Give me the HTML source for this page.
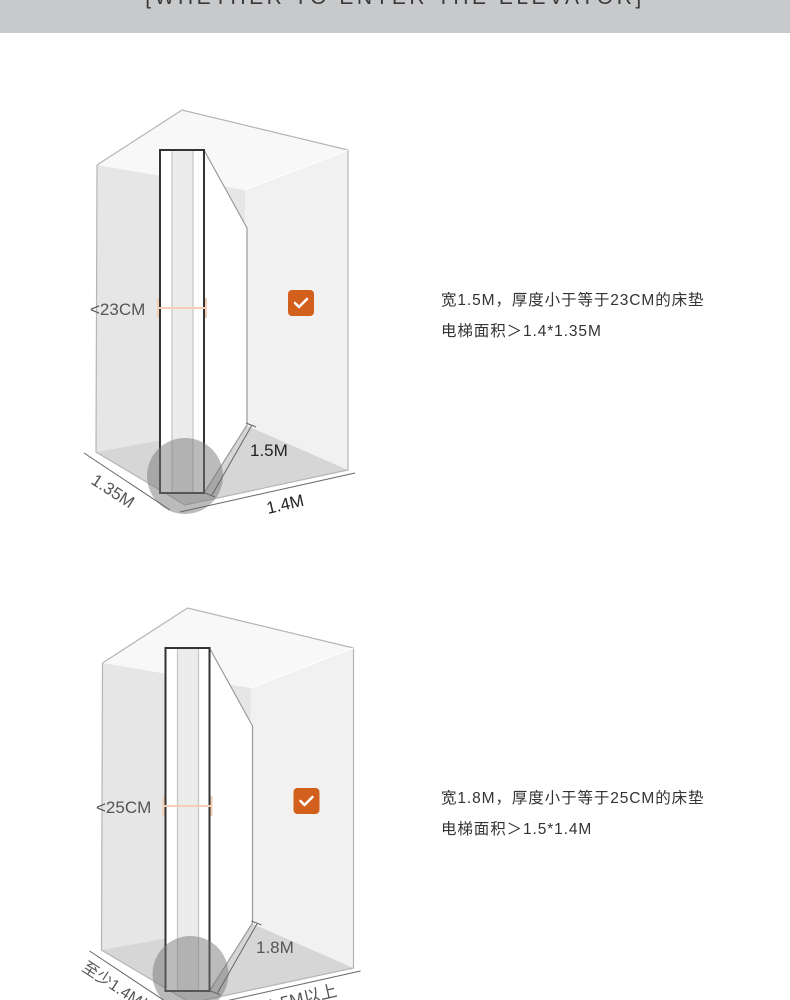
<!DOCTYPE html>
<html><head><meta charset="utf-8"><style>
html,body{margin:0;padding:0;background:#fff;}
body{width:790px;height:1000px;overflow:hidden;position:relative;font-family:"Liberation Sans","Noto Sans CJK SC",sans-serif;}
.hdr{position:absolute;left:0;top:0;width:790px;height:33px;background:#c8c9cb;}
.hdr span{position:absolute;left:0;width:790px;top:-14px;text-align:center;font-size:21px;letter-spacing:3.5px;color:#3a3a3a;}
.t{position:absolute;left:441px;font-size:15.5px;color:#333;letter-spacing:0.9px;}
</style></head><body>
<div class="hdr"><span>[WHETHER TO ENTER THE ELEVATOR]</span></div>
<svg width="790" height="1000" style="position:absolute;left:0;top:0" font-family="Liberation Sans, Noto Sans CJK SC, sans-serif">
<defs>
<g id="box">
  <polygon points="97,165 182,110 348,150 245,190" fill="#f8f8f8"/>
  <polygon points="97,165 245,190 245,425 96,452" fill="#e6e6e6"/>
  <polygon points="245,190 348,150 348,470 245,425" fill="#f1f1f1"/>
  <polygon points="96,452 245,425 348,470 185,505" fill="#d6d6d6"/>
  <polyline points="97,165 182,110 348,150 348,470 185,505 96,452 97,165" fill="none" stroke="#b5b5b5" stroke-width="1.2"/>
  <line x1="245" y1="190" x2="348" y2="150" stroke="#fff" stroke-width="1"/>
  <polygon points="204,150 247,228 247,425 204,493" fill="#fff" stroke="#9a9a9a" stroke-width="1.2"/>
  <rect x="160" y="150" width="44" height="343" fill="#fff"/>
  <rect x="172" y="150" width="21" height="343" fill="#ececec" stroke="#c4c4c4" stroke-width="1.2"/>
  <rect x="160" y="150" width="44" height="343" fill="none" stroke="#333" stroke-width="2"/>
  <circle cx="185" cy="476" r="38" fill="#777" fill-opacity="0.5"/>
  <line x1="84" y1="453" x2="170" y2="510" stroke="#666" stroke-width="1"/>
  <line x1="180" y1="512" x2="355" y2="473" stroke="#666" stroke-width="1"/>
  <line x1="252" y1="425" x2="212" y2="495" stroke="#666" stroke-width="1"/>
  <line x1="246" y1="423" x2="256" y2="427" stroke="#666"/>
  <line x1="205" y1="493" x2="215" y2="497" stroke="#666"/>
  <line x1="158" y1="308" x2="206" y2="308" stroke="#f2cfb5" stroke-width="2"/>
  <line x1="158" y1="298" x2="158" y2="318" stroke="#f2cfb5" stroke-width="2"/>
  <line x1="206" y1="298" x2="206" y2="318" stroke="#f2cfb5" stroke-width="2"/>
  <rect x="288" y="290" width="26" height="26" rx="4" fill="#d35f1c"/>
  <polyline points="295,303 299,307 307,299" fill="none" stroke="#fff" stroke-width="2.5" stroke-linecap="round" stroke-linejoin="round"/>
</g>
</defs>
<use href="#box"/>
<text x="90" y="315" font-size="17" fill="#555">&lt;23CM</text>
<text x="250" y="456" font-size="17" fill="#222">1.5M</text>
<text x="268" y="514" font-size="17" fill="#222" transform="rotate(-13 268 514)">1.4M</text>
<text x="90" y="483" font-size="17" fill="#555" transform="rotate(33 90 483)">1.35M</text>
<g transform="translate(5.5,498)"><use href="#box"/></g>
<text x="96" y="813" font-size="17" fill="#555">&lt;25CM</text>
<text x="256" y="953" font-size="17" fill="#555">1.8M</text>
<text x="268" y="1012" font-size="17" fill="#555" transform="rotate(-13 268 1012)">1.5M以上</text>
<text x="81" y="970" font-size="16" fill="#555" transform="rotate(33 81 970)">至少1.4M以上</text>
</svg>
<div class="t" style="top:288px">宽1.5M，厚度小于等于23CM的床垫</div>
<div class="t" style="top:319px">电梯面积＞1.4*1.35M</div>
<div class="t" style="top:786px">宽1.8M，厚度小于等于25CM的床垫</div>
<div class="t" style="top:817px">电梯面积＞1.5*1.4M</div>
</body></html>
